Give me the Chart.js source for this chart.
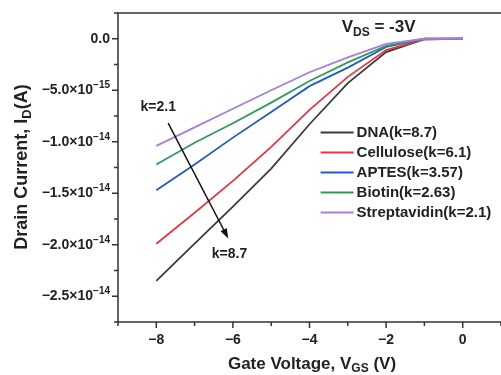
<!DOCTYPE html>
<html>
<head>
<meta charset="utf-8">
<script src="https://cdn.jsdelivr.net/npm/chart.js@4"></script>
<style>
  body { margin: 0; background: #fff; overflow: hidden; }
</style>
</head>
<body>
<canvas id="chart" width="510" height="375"></canvas>
<script>
// gate voltage (V) and drain current (A)
const vgs = [-8, -7, -6, -5, -4, -3, -2, -1, 0];
const dna = [-23.5e-15, -19.9e-15, -16.3e-15, -12.6e-15, -8.3e-15, -4.3e-15, -1.3e-15, -0.05e-15, 0];
const cellulose = [-19.9e-15, -16.9e-15, -13.8e-15, -10.5e-15, -6.9e-15, -3.7e-15, -1.1e-15, -0.05e-15, 0];
const aptes = [-14.7e-15, -12.2e-15, -9.6e-15, -7.1e-15, -4.6e-15, -2.8e-15, -0.8e-15, 0, 0];
const biotin = [-12.2e-15, -10.1e-15, -8.2e-15, -6.2e-15, -4.1e-15, -2.3e-15, -0.7e-15, 0, 0];
const streptavidin = [-10.4e-15, -8.6e-15, -6.8e-15, -5.0e-15, -3.25e-15, -1.8e-15, -0.5e-15, 0, 0];

const labels = ["DNA(k=8.7)", "Cellulose(k=6.1)", "APTES(k=3.57)", "Biotin(k=2.63)", "Streptavidin(k=2.1)"];
const colors = ["#3b3b3b", "#e0393f", "#1f5cc4", "#2f9a5c", "#a57fd8"];
const series = [dna, cellulose, aptes, biotin, streptavidin];

// annotation anchors in data units
const arrowFrom = [-7.69, -8.2e-15];
const arrowTo = [-6.12, -19.4e-15];
const kLow = [-7.95, -6.6e-15];
const kHigh = [-6.09, -20.9e-15];
const vdsPos = [-3.16, 1.1e-15];
const legendPos = [-3.71, -9.1e-15];

const FONT = "'Liberation Sans', Arial, sans-serif";
const axisColor = "#333";
const textColor = "#222";

function richText(ctx, parts, x, y, size, align) {
  // parts: [text, 0 normal | 1 sub | 2 sup]
  const sz = p => p[1] ? Math.round(size * 0.72) : size;
  let w = 0;
  parts.forEach(p => {
    ctx.font = "bold " + sz(p) + "px " + FONT;
    w += ctx.measureText(p[0]).width;
  });
  let cx = align === "center" ? x - w / 2 : align === "right" ? x - w : x;
  ctx.textAlign = "left";
  ctx.textBaseline = "middle";
  parts.forEach(p => {
    ctx.font = "bold " + sz(p) + "px " + FONT;
    const dy = p[1] === 1 ? size * 0.3 : p[1] === 2 ? -size * 0.35 : 0;
    ctx.fillText(p[0], cx, y + dy);
    cx += ctx.measureText(p[0]).width;
  });
}

function yLabel(v) {
  if (Math.abs(v) < 1e-20) return [["0.0", 0]];
  const e = Math.floor(Math.log10(Math.abs(v)) + 1e-9);
  const m = v / Math.pow(10, e);
  return [[(m < 0 ? "\u2212" : "") + Math.abs(m).toFixed(1) + "\u00d710", 0], ["\u2212" + Math.abs(e), 2]];
}

const deco = {
  id: "deco",
  afterDraw(chart) {
    const { ctx, chartArea: a, scales: { x, y } } = chart;
    ctx.save();
    ctx.fillStyle = textColor;
    ctx.strokeStyle = axisColor;
    ctx.lineWidth = 1.5;

    // frame: left, bottom, top
    ctx.beginPath();
    ctx.moveTo(a.right + 5, a.top); ctx.lineTo(a.left, a.top);
    ctx.lineTo(a.left, a.bottom); ctx.lineTo(a.right + 5, a.bottom);
    ctx.stroke();

    // y ticks
    y.ticks.forEach(t => {
      const py = y.getPixelForValue(t.value);
      const major = Math.abs(Math.round(t.value / 2.5e-15)) % 2 === 0;
      ctx.beginPath();
      ctx.moveTo(a.left, py); ctx.lineTo(a.left - (major ? 6 : 4), py);
      ctx.stroke();
      if (major && py > a.top + 5) {
        richText(ctx, yLabel(t.value), a.left - 8, py, 14, "right");
      }
    });

    // x ticks
    x.ticks.forEach(t => {
      const px = x.getPixelForValue(t.value);
      const major = Math.abs(Math.round(t.value)) % 2 === 0;
      ctx.beginPath();
      ctx.moveTo(px, a.bottom); ctx.lineTo(px, a.bottom + (major ? 6 : 4));
      ctx.stroke();
      if (major) {
        const s = t.value < 0 ? "\u2212" + Math.abs(t.value) : String(t.value);
        richText(ctx, [[s, 0]], px, a.bottom + 18, 14, "center");
      }
    });

    // axis titles
    richText(ctx, [["Gate Voltage, V", 0], ["GS", 1], [" (V)", 0]], 312, 364, 17, "center");
    ctx.save();
    ctx.translate(22, 167);
    ctx.rotate(-Math.PI / 2);
    richText(ctx, [["Drain Current, I", 0], ["D", 1], ["(A)", 0]], 0, 0, 18, "center");
    ctx.restore();

    // V_DS note
    richText(ctx, [["V", 0], ["DS", 1], [" = -3V", 0]], x.getPixelForValue(vdsPos[0]), y.getPixelForValue(vdsPos[1]), 17, "left");

    // k labels and arrow
    richText(ctx, [["k=2.1", 0]], x.getPixelForValue(kLow[0]), y.getPixelForValue(kLow[1]), 14, "center");
    richText(ctx, [["k=8.7", 0]], x.getPixelForValue(kHigh[0]), y.getPixelForValue(kHigh[1]), 14, "center");
    const x1 = x.getPixelForValue(arrowFrom[0]), y1 = y.getPixelForValue(arrowFrom[1]);
    const x2 = x.getPixelForValue(arrowTo[0]), y2 = y.getPixelForValue(arrowTo[1]);
    const ang = Math.atan2(y2 - y1, x2 - x1);
    ctx.strokeStyle = "#111";
    ctx.fillStyle = "#111";
    ctx.lineWidth = 1.5;
    ctx.beginPath();
    ctx.moveTo(x1, y1); ctx.lineTo(x2 - 6 * Math.cos(ang), y2 - 6 * Math.sin(ang));
    ctx.stroke();
    ctx.beginPath();
    ctx.moveTo(x2, y2);
    ctx.lineTo(x2 - 10 * Math.cos(ang) + 3.5 * Math.sin(ang), y2 - 10 * Math.sin(ang) - 3.5 * Math.cos(ang));
    ctx.lineTo(x2 - 10 * Math.cos(ang) - 3.5 * Math.sin(ang), y2 - 10 * Math.sin(ang) + 3.5 * Math.cos(ang));
    ctx.closePath();
    ctx.fill();

    // legend
    const lx = x.getPixelForValue(legendPos[0]);
    const ly = y.getPixelForValue(legendPos[1]);
    labels.forEach((lab, i) => {
      const ry = ly + i * 20;
      ctx.strokeStyle = colors[i];
      ctx.lineWidth = 1.8;
      ctx.beginPath();
      ctx.moveTo(lx, ry); ctx.lineTo(lx + 33, ry);
      ctx.stroke();
      ctx.fillStyle = textColor;
      richText(ctx, [[lab, 0]], lx + 36, ry, 15, "left");
    });
    ctx.restore();
  }
};

const datasets = series.map((s, i) => ({
  label: labels[i],
  data: vgs.map((v, j) => ({ x: v, y: s[j] })),
  borderColor: colors[i],
  borderWidth: 1.8,
  pointRadius: 0,
  tension: 0,
  fill: false,
  order: 5 - i
}));

new Chart(document.getElementById("chart"), {
  type: "line",
  data: { datasets: datasets },
  options: {
    responsive: false,
    animation: false,
    layout: { padding: { left: 118, top: 13, right: 9, bottom: 53 } },
    plugins: { legend: { display: false }, tooltip: { enabled: false } },
    scales: {
      x: {
        type: "linear", min: -9, max: 1,
        ticks: { display: false, stepSize: 1 },
        grid: { display: false, drawTicks: false },
        border: { display: false }
      },
      y: {
        type: "linear", min: -2.75e-14, max: 2.5e-15,
        ticks: { display: false, stepSize: 2.5e-15 },
        grid: { display: false, drawTicks: false },
        border: { display: false }
      }
    }
  },
  plugins: [deco]
});
</script>
</body>
</html>
